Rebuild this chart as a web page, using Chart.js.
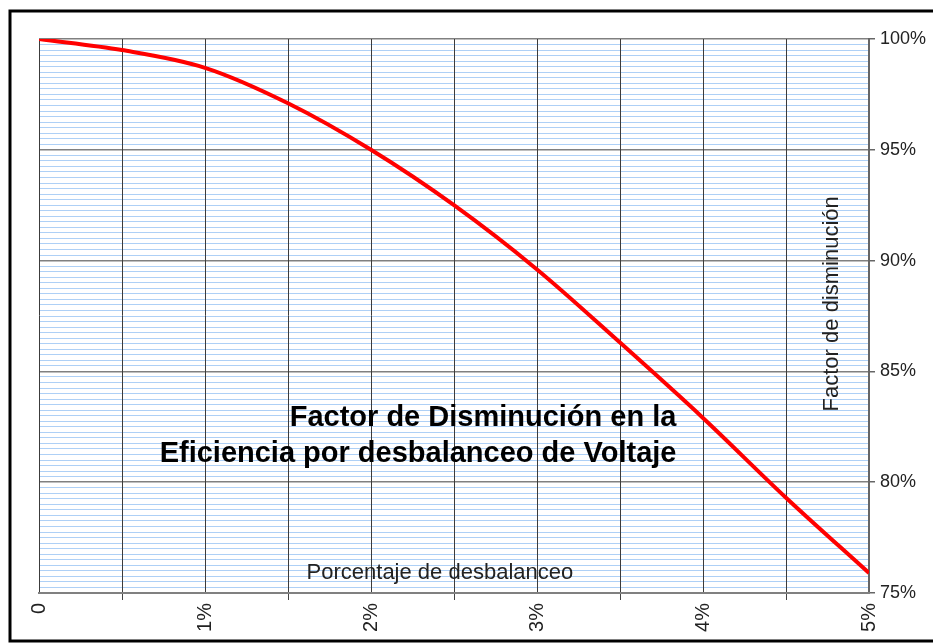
<!DOCTYPE html>
<html>
<head>
<meta charset="utf-8">
<script src="https://cdn.jsdelivr.net/npm/chart.js@4/dist/chart.umd.min.js"></script>
<style>
  html, body { margin: 0; padding: 0; background: #fff; }
  #wrap { width: 933px; height: 643px; }
</style>
</head>
<body>
<div id="wrap"><canvas id="chart"></canvas></div>
<script>
// Datos
var desbalanceo = [0, 0.5, 1, 1.5, 2, 2.5, 3, 3.5, 4, 4.5, 5];
var factor = [100, 99.5, 98.7, 97.1, 95.0, 92.5, 89.6, 86.3, 82.9, 79.3, 75.9];
var xTicks = ["0", "1%", "2%", "3%", "4%", "5%"];
var yTicks = ["75%", "80%", "85%", "90%", "95%", "100%"];

var tituloLineas = ["Factor de Disminución en la", "Eficiencia por desbalanceo de Voltaje"];
var tituloX = "Porcentaje de desbalanceo";
var tituloY = "Factor de disminución";

var fuente = "Arial, 'Liberation Sans', sans-serif";

// Marco y textos dentro del area del grafico
var marco = {
    id: "marco",
    beforeDraw: function (chart) {
        var c = chart.ctx;
        c.save();
        c.fillStyle = "#fff";
        c.fillRect(0, 0, chart.width, chart.height);
        c.restore();
    },
    afterDraw: function (chart) {
        var c = chart.ctx;
        var a = chart.chartArea;
        c.save();
        c.strokeStyle = "#000";
        c.lineWidth = 3;
        c.strokeRect(10, 11, chart.width + 20, chart.height - 13);

        c.fillStyle = "#000";
        c.font = "bold 29px " + fuente;
        c.textAlign = "right";
        c.textBaseline = "alphabetic";
        c.fillText(tituloLineas[0], a.left + a.width * 0.768, a.top + a.height * 0.698);
        c.fillText(tituloLineas[1], a.left + a.width * 0.768, a.top + a.height * 0.764);

        c.fillStyle = "#222";
        c.font = "22px " + fuente;
        c.textAlign = "center";
        c.fillText(tituloX, a.left + a.width * 0.483, a.top + a.height * 0.975);

        c.translate(a.left + a.width * 0.955, a.top + a.height * 0.478);
        c.rotate(-Math.PI / 2);
        c.textBaseline = "middle";
        c.fillText(tituloY, 0, 0);
        c.restore();
    }
};

var ctx = document.getElementById("chart").getContext("2d");
var grafico = new Chart(ctx, {
    type: "line",
    data: {
        datasets: [
            {
                label: "Factor",
                data: desbalanceo.map(function (x, i) {
                    return { x: x, y: factor[i] };
                }),
                borderColor: "#ff0000",
                borderWidth: 4,
                pointRadius: 0,
                cubicInterpolationMode: "monotone",
                fill: false,
            },
        ],
    },
    options: {
        responsive: true,
        maintainAspectRatio: false,
        animation: false,
        devicePixelRatio: 1,
        layout: { padding: { left: 39, top: 39, right: 0, bottom: 0 } },
        plugins: {
            legend: { display: false },
            tooltip: { enabled: false },
            title: { display: false },
        },
        scales: {
            y: {
                type: "linear",
                position: "right",
                min: 75,
                max: 100,
                z: -1,
                afterFit: function (scale) {
                    scale.width = 64;
                },
                afterBuildTicks: function (scale) {
                    var t = [];
                    for (var i = 0; i <= 100; i++) {
                        t.push({ value: 75 + i * 0.25 });
                    }
                    scale.ticks = t;
                },
                border: { color: "#666", width: 2 },
                grid: {
                    color: function (c) {
                        return c.tick && c.tick.value % 5 === 0 ? "#808080" : "#aed0f6";
                    },
                    lineWidth: function (c) {
                        return c.tick && c.tick.value % 5 === 0 ? 1.5 : 1;
                    },
                    tickLength: 6,
                    tickColor: function (c) {
                        return c.tick && c.tick.value % 5 === 0 ? "#666" : "rgba(0,0,0,0)";
                    },
                },
                ticks: {
                    autoSkip: false,
                    padding: 5,
                    color: "#222",
                    font: { family: fuente, size: 18 },
                    callback: function (v) {
                        return v % 5 === 0 ? yTicks[(v - 75) / 5] : "";
                    },
                },
            },
            x: {
                type: "linear",
                min: 0,
                max: 5,
                afterFit: function (scale) {
                    scale.height = 50;
                },
                afterBuildTicks: function (scale) {
                    scale.ticks = desbalanceo.map(function (v) {
                        return { value: v };
                    });
                },
                border: { color: "#808080", width: 2 },
                grid: {
                    color: "#3c3c3c",
                    lineWidth: 1,
                    tickLength: 7,
                    tickColor: function (c) {
                        return c.tick && c.tick.value % 1 !== 0 ? "#444" : "rgba(0,0,0,0)";
                    },
                },
                ticks: {
                    autoSkip: false,
                    minRotation: 90,
                    maxRotation: 90,
                    padding: 3,
                    color: "#222",
                    font: { family: fuente, size: 20 },
                    callback: function (v) {
                        return v % 1 === 0 ? xTicks[v] : "";
                    },
                },
            },
        },
    },
    plugins: [marco],
});
</script>
</body>
</html>
